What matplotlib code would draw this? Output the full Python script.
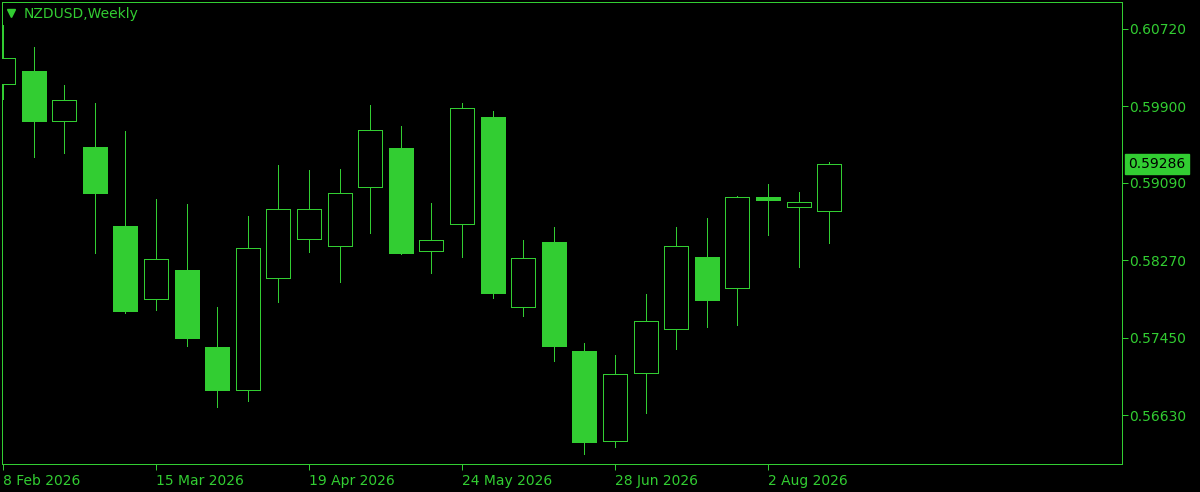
import matplotlib.pyplot as plt

# weekly NZDUSD candles
opens  = [0.60137, 0.60275, 0.59745, 0.59470, 0.58633, 0.57860, 0.58167, 0.57351,
          0.56896, 0.58082, 0.58495, 0.58421, 0.59046, 0.59460, 0.58368, 0.58654,
          0.59788, 0.57775, 0.58464, 0.57309, 0.56355, 0.57076, 0.57542, 0.58305,
          0.57976, 0.58940, 0.58834, 0.58792]
highs  = [0.60762, 0.60529, 0.60127, 0.59936, 0.59639, 0.58919, 0.58866, 0.57775,
          0.58739, 0.59279, 0.59226, 0.59237, 0.59915, 0.59692, 0.58877, 0.59936,
          0.59851, 0.58485, 0.58622, 0.57394, 0.57266, 0.57913, 0.58622, 0.58718,
          0.58951, 0.59078, 0.58993, 0.59311]
lows   = [0.59978, 0.59364, 0.59406, 0.58347, 0.57711, 0.57743, 0.57362, 0.56716,
          0.56779, 0.57828, 0.58358, 0.58040, 0.58559, 0.58336, 0.58135, 0.58305,
          0.57870, 0.57680, 0.57203, 0.56218, 0.56292, 0.56652, 0.57330, 0.57563,
          0.57584, 0.58538, 0.58199, 0.58453]
closes = [0.60413, 0.59745, 0.59968, 0.58983, 0.57733, 0.58283, 0.57450, 0.56896,
          0.58400, 0.58813, 0.58813, 0.58983, 0.59650, 0.58347, 0.58485, 0.59883,
          0.57923, 0.58294, 0.57362, 0.56345, 0.57065, 0.57627, 0.58421, 0.57849,
          0.58940, 0.58908, 0.58887, 0.59286]

price_ticks = [0.60720, 0.59900, 0.59090, 0.58270, 0.57450, 0.56630]
date_pos = [0, 5, 10, 15, 20, 25]
date_labels = ["8 Feb 2026", "15 Mar 2026", "19 Apr 2026", "24 May 2026", "28 Jun 2026", "2 Aug 2026"]
last_price = 0.59286

GREEN = "#32CD32"
LW = 0.72

fig = plt.figure(figsize=(12, 4.92), dpi=100, facecolor="black")
ax = fig.add_axes([2 / 1200, 28 / 492, 1120 / 1200, 462 / 492], facecolor="black")

x = list(range(len(opens)))
ax.vlines(x, lows, highs, color=GREEN, linewidth=LW, zorder=2, antialiased=False)
for i in x:
    o, c = opens[i], closes[i]
    bull = c >= o
    ax.bar(i, abs(c - o), bottom=min(o, c), width=0.78,
           facecolor="black" if bull else GREEN, edgecolor=GREEN,
           linewidth=LW, zorder=3, antialiased=False)

ax.set_xlim(-0.033, 36.57)
ax.set_ylim(0.56111, 0.61006)

for s in ax.spines.values():
    s.set_color(GREEN)
    s.set_linewidth(LW)

ax.yaxis.tick_right()
ax.set_yticks(price_ticks)
ax.set_yticklabels([f"{p:.5f}" for p in price_ticks])
ax.set_xticks(date_pos)
ax.set_xticklabels(date_labels)
ax.tick_params(colors=GREEN, labelcolor=GREEN, labelsize=10, length=4, width=LW, pad=1)
plt.setp(ax.get_xticklabels(), ha="left")
ax.tick_params(axis="x", pad=3)

# current price tag
ax.annotate(f"{last_price:.5f}", xy=(1, last_price), xycoords=("axes fraction", "data"),
            xytext=(4.5, 0), textcoords="offset points", va="center", ha="left",
            fontsize=10, color="black",
            bbox=dict(boxstyle="square,pad=0.22", facecolor=GREEN, edgecolor=GREEN))

ax.plot([0.008], [0.976], marker="v", markersize=6, color=GREEN, transform=ax.transAxes,
        clip_on=False)
ax.text(0.0196, 0.974, "NZDUSD,Weekly", color=GREEN, fontsize=10, va="center", ha="left",
        transform=ax.transAxes)

fig.savefig("out.png", dpi=100, facecolor="black")
